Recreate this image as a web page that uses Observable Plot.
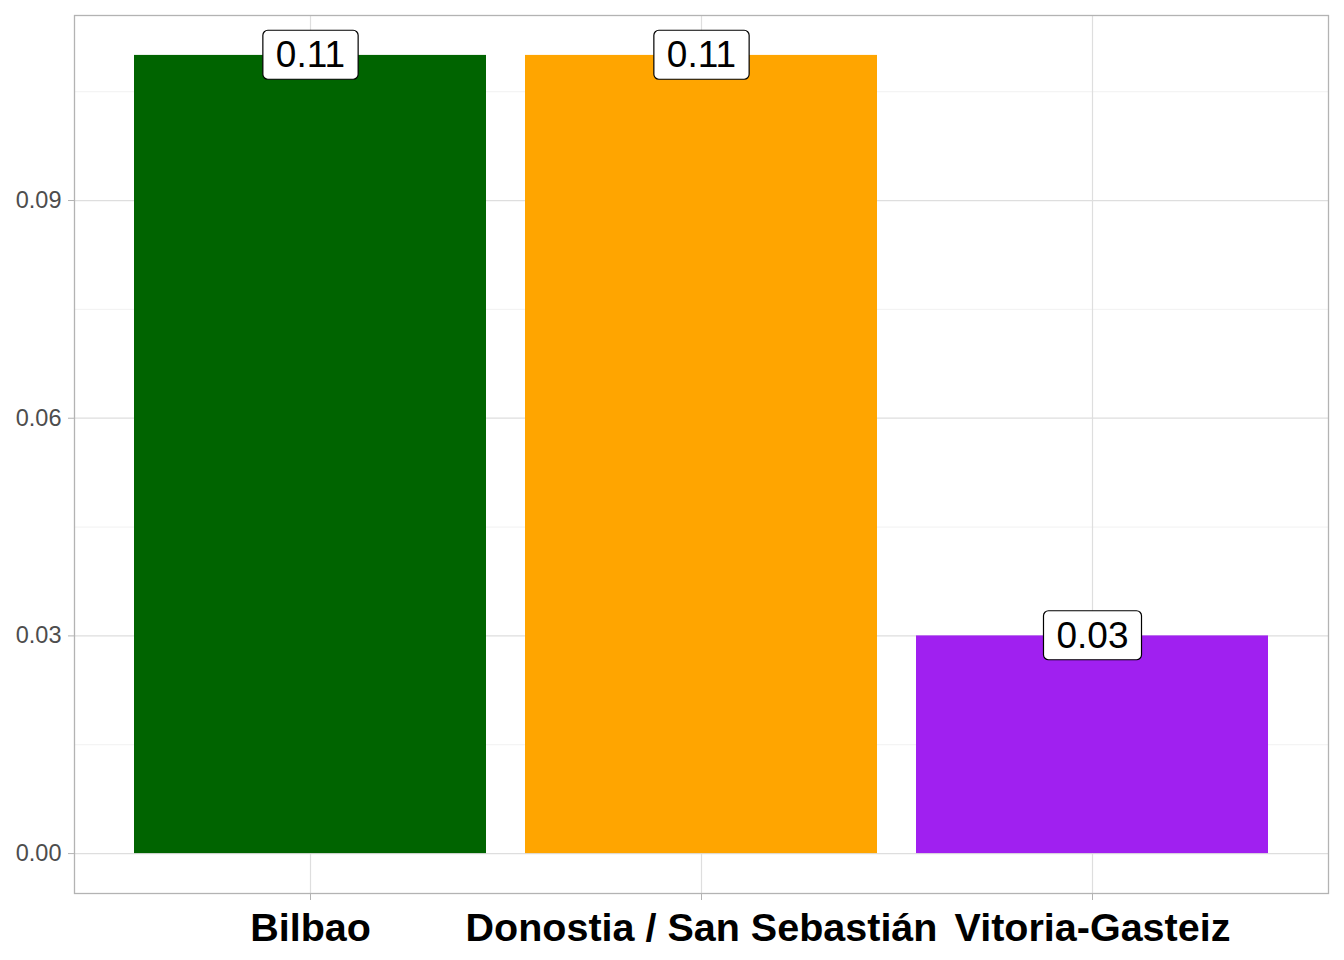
<!DOCTYPE html>
<html>
<head>
<meta charset="utf-8">
<script src="https://cdn.jsdelivr.net/npm/d3@7"></script>
<script src="https://cdn.jsdelivr.net/npm/@observablehq/plot@0.6"></script>
<style>
  html, body { margin: 0; padding: 0; background: #fff; }
  svg { display: block; }
</style>
</head>
<body>
<script>
const cities = ["Bilbao", "Donostia / San Sebastián", "Vitoria-Gasteiz"];
const values = [0.11, 0.11, 0.03];
const colors = ["#006400", "#FFA500", "#A020F0"];
const majorTicks = [0, 0.03, 0.06, 0.09];
const minorTicks = [0.015, 0.045, 0.075, 0.105];

const data = cities.map((c, i) => ({city: c, value: values[i]}));

const chart = Plot.plot({
  width: 1344,
  height: 960,
  marginLeft: 74,
  marginRight: 16,
  marginTop: 15,
  marginBottom: 67,
  style: {fontFamily: "'Liberation Sans', Arial, sans-serif", background: "#fff"},
  x: {type: "band", domain: cities, paddingInner: 0.1, paddingOuter: 0.15, align: 0.5},
  y: {domain: [-0.0055, 0.1155]},
  color: {domain: cities, range: colors},
  marks: [
    Plot.ruleY(minorTicks, {stroke: "#ebebeb", strokeWidth: 0.7}),
    Plot.ruleY(majorTicks, {stroke: "#dedede", strokeWidth: 1.2}),
    Plot.ruleX(cities, {x: d => d, stroke: "#dedede", strokeWidth: 1.2}),
    Plot.barY(data, {x: "city", y: "value", fill: "city"}),
    Plot.text(data, {x: "city", y: "value", text: d => d3.format(".2f")(d.value), fontSize: 37, fill: "black"}),
    Plot.frame({stroke: "#b3b3b3", strokeWidth: 1.3}),
    Plot.axisY({ticks: majorTicks, tickFormat: d3.format(".2f"), tickSize: 6, tickPadding: 7, fontSize: 23.5, stroke: "#b3b3b3", fill: "#4d4d4d", label: null}),
    Plot.axisX({tickSize: 7, tickPadding: 12, fontSize: 39.5, fontWeight: "bold", stroke: "#b3b3b3", fill: "black", label: null})
  ]
});
document.body.append(chart);

// boxed labels: draw a rounded white rect behind each value label
const svgNS = "http://www.w3.org/2000/svg";
chart.querySelectorAll('g[aria-label="text"] text').forEach(t => {
  const b = t.getBBox();
  const r = document.createElementNS(svgNS, "rect");
  const h = 49, padX = 13;
  r.setAttribute("x", b.x - padX);
  r.setAttribute("y", b.y + b.height / 2 - h / 2);
  r.setAttribute("width", b.width + 2 * padX);
  r.setAttribute("height", h);
  r.setAttribute("rx", 5);
  r.setAttribute("fill", "white");
  r.setAttribute("stroke", "black");
  r.setAttribute("stroke-width", 1.2);
  if (t.getAttribute("transform")) r.setAttribute("transform", t.getAttribute("transform"));
  t.parentNode.insertBefore(r, t);
});
</script>
</body>
</html>
